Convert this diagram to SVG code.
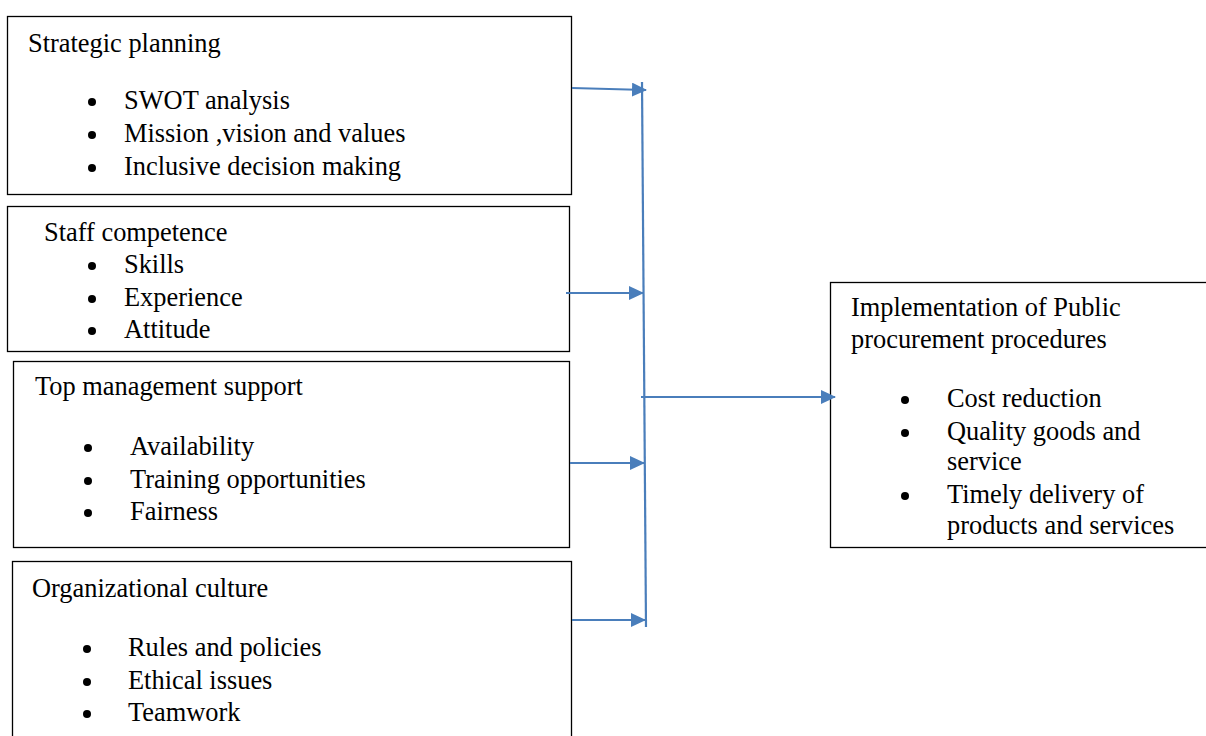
<svg xmlns="http://www.w3.org/2000/svg" width="1206" height="736" viewBox="0 0 1206 736">
<style>
.box{fill:#fff;stroke:#000;stroke-width:1.3}
text{font-family:"Liberation Serif","Times New Roman",serif;font-size:26.4px;fill:#000}
.b{fill:#000}
.c{stroke:#4a7ebb;stroke-width:2.2;fill:none}
</style>
<defs>
<marker id="ah" viewBox="0 0 15 14" refX="14" refY="7" markerWidth="15" markerHeight="14" markerUnits="userSpaceOnUse" orient="auto">
<path d="M0,0 L15,7 L0,14 Z" fill="#4a7ebb"/>
</marker>
</defs>
<rect width="1206" height="736" fill="#fff"/>
<g id="n1">
<rect class="box" x="7.5" y="16.5" width="564" height="178"/>
<text x="28" y="52">Strategic planning</text>
<circle class="b" cx="92" cy="102" r="4"/><text x="124" y="109">SWOT analysis</text>
<circle class="b" cx="92" cy="135" r="4"/><text x="124" y="142">Mission ,vision and values</text>
<circle class="b" cx="92" cy="168" r="4"/><text x="124" y="175">Inclusive decision making</text>
</g>
<g id="n2">
<rect class="box" x="7.5" y="206.5" width="562" height="145"/>
<text x="44" y="241">Staff competence</text>
<circle class="b" cx="92" cy="266" r="4"/><text x="124" y="273">Skills</text>
<circle class="b" cx="92" cy="299" r="4"/><text x="124" y="306">Experience</text>
<circle class="b" cx="92" cy="331" r="4"/><text x="124" y="338">Attitude</text>
</g>
<g id="n3">
<rect class="box" x="13.5" y="361.5" width="556" height="186"/>
<text x="35" y="395">Top management support</text>
<circle class="b" cx="88" cy="448" r="4"/><text x="130" y="455">Availability</text>
<circle class="b" cx="88" cy="481" r="4"/><text x="130" y="488">Training opportunities</text>
<circle class="b" cx="88" cy="513" r="4"/><text x="130" y="520">Fairness</text>
</g>
<g id="n4">
<rect class="box" x="12.5" y="561.5" width="559" height="190"/>
<text x="32" y="597">Organizational culture</text>
<circle class="b" cx="87" cy="649" r="4"/><text x="128" y="656">Rules and policies</text>
<circle class="b" cx="87" cy="682" r="4"/><text x="128" y="689">Ethical issues</text>
<circle class="b" cx="87" cy="714" r="4"/><text x="128" y="721">Teamwork</text>
</g>
<g id="n5">
<rect class="box" x="830.5" y="282.5" width="390" height="265"/>
<text x="851" y="316">Implementation of Public</text>
<text x="851" y="348">procurement procedures</text>
<circle class="b" cx="905" cy="400" r="4"/><text x="947" y="407">Cost reduction</text>
<circle class="b" cx="905" cy="433" r="4"/><text x="947" y="440">Quality goods and</text>
<text x="947" y="470">service</text>
<circle class="b" cx="905" cy="496" r="4"/><text x="947" y="503">Timely delivery of</text>
<text x="947" y="534">products and services</text>
</g>
<g id="connectors">
<line class="c" x1="642" y1="82" x2="646" y2="627"/>
<line class="c" x1="572" y1="88" x2="646" y2="90" marker-end="url(#ah)"/>
<line class="c" x1="566" y1="293" x2="643" y2="293" marker-end="url(#ah)"/>
<line class="c" x1="570" y1="463" x2="644" y2="463" marker-end="url(#ah)"/>
<line class="c" x1="572" y1="620" x2="645" y2="620" marker-end="url(#ah)"/>
<line class="c" x1="641" y1="397" x2="835" y2="397" marker-end="url(#ah)"/>
</g>
</svg>
